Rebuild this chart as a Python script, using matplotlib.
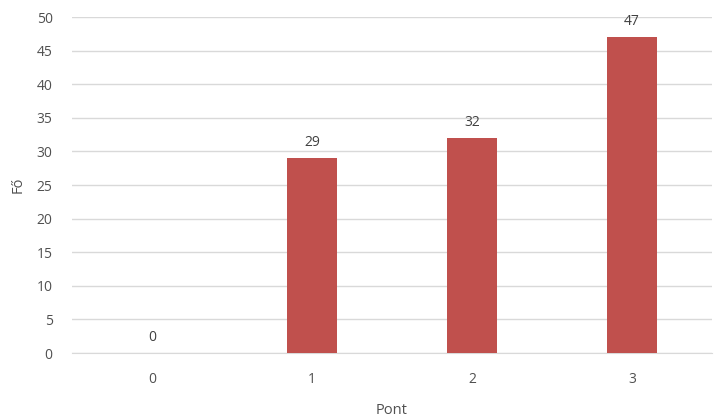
import matplotlib.pyplot as plt

# Adatok
pontok = ['0', '1', '2', '3']
fo = [0, 29, 32, 47]

bar_color = '#C0504D'
text_color = '#505050'
grid_color = '#D9D9D9'

plt.rcParams['font.family'] = ['Open Sans', 'DejaVu Sans']

fig = plt.figure(figsize=(7.18, 4.19), dpi=100)
ax = fig.add_axes([0.1003, 0.1575, 0.8913, 0.8019])

x = range(len(pontok))
bars = ax.bar(x, fo, width=0.31, color=bar_color, zorder=3)

# Értékcímkék a oszlopok felett
for xi, v in zip(x, fo):
    ax.annotate(str(v), xy=(xi, v), xytext=(0, 6), textcoords='offset points',
                ha='center', va='bottom', fontsize=10, color='#404040')

ax.set_xlim(-0.5, len(pontok) - 0.5)
ax.set_ylim(0, 50)
ax.set_yticks(range(0, 51, 5))
ax.set_xticks(list(x))
ax.set_xticklabels(pontok)

ax.yaxis.grid(True, color=grid_color, linewidth=1, zorder=0)
for side in ['top', 'right', 'left']:
    ax.spines[side].set_visible(False)
ax.spines['bottom'].set_color(grid_color)
ax.tick_params(axis='both', length=0, colors=text_color, labelsize=10)
ax.tick_params(axis='x', pad=14)
ax.tick_params(axis='y', pad=14)

ax.set_xlabel('Pont', fontsize=10.5, color=text_color, labelpad=11)
ax.set_ylabel('Fő', fontsize=10.5, color=text_color, labelpad=8)

fig.savefig('out.png', dpi=100)
